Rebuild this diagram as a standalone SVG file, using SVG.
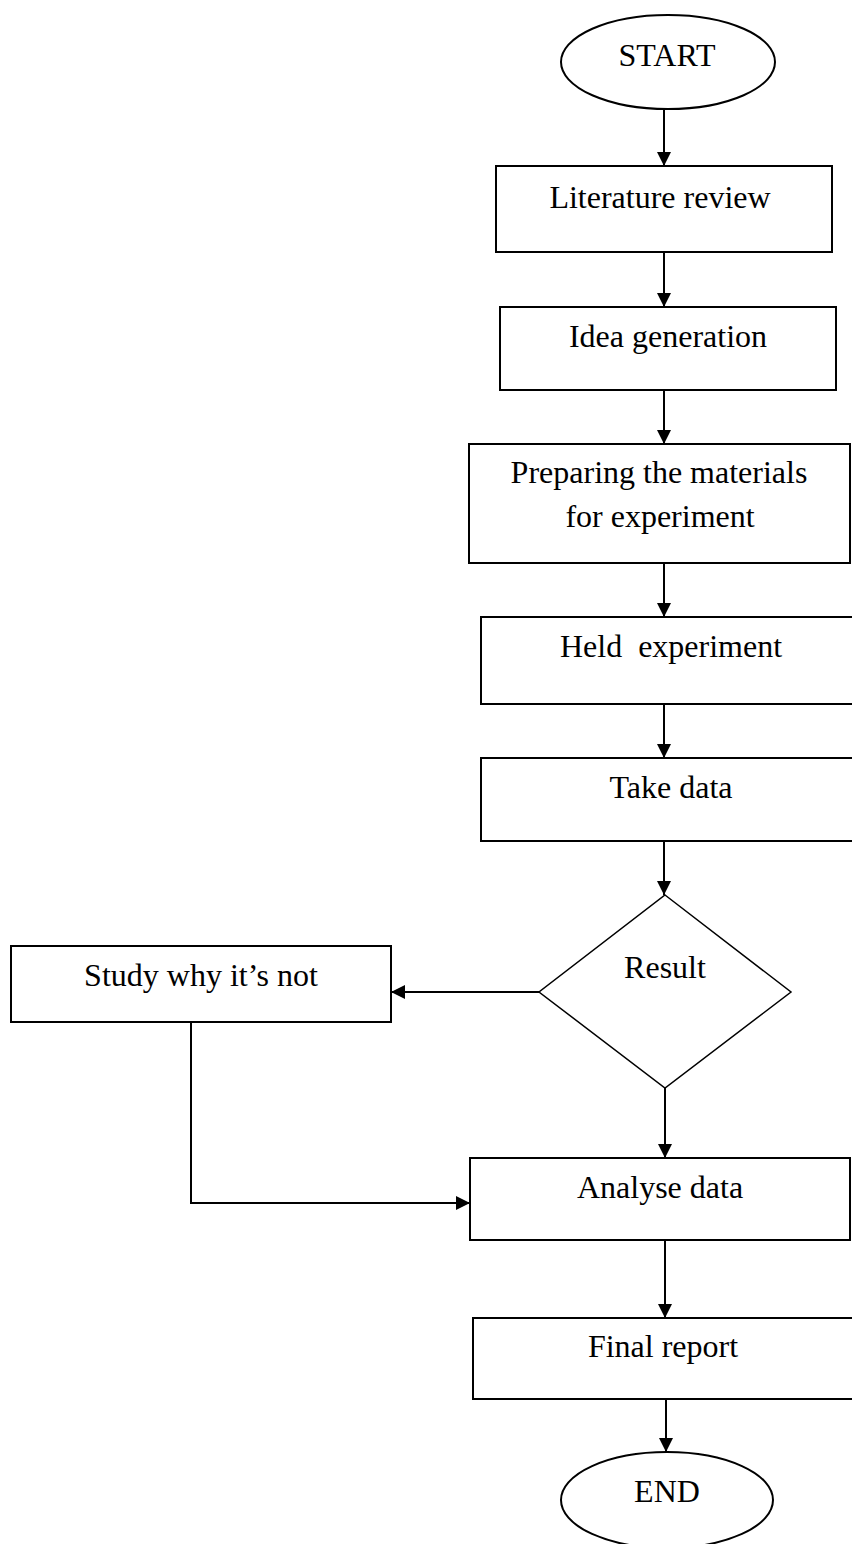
<svg xmlns="http://www.w3.org/2000/svg" width="852" height="1544" viewBox="0 0 852 1544">
<style>
  .box { fill: #ffffff; stroke: #000000; stroke-width: 2; }
  .dia { fill: #ffffff; stroke: #000000; stroke-width: 1.5; }
  .lbl { font-family: "Liberation Serif", "Times New Roman", serif; font-size: 32px; fill: #000000; text-anchor: middle; }
  .con { fill: none; stroke: #000000; stroke-width: 2; }
</style>
<defs>
  <marker id="arr" viewBox="0 0 14 14" refX="14" refY="7" markerWidth="14" markerHeight="14" markerUnits="userSpaceOnUse" orient="auto">
    <path d="M0,0 L14,7 L0,14 Z" fill="#000000"/>
  </marker>
</defs>
<rect width="852" height="1544" fill="#ffffff"/>
<g id="start">
  <ellipse class="box" cx="668" cy="62" rx="107" ry="47"/>
  <text class="lbl" x="667" y="66">START</text>
</g>
<g id="literature">
  <rect class="box" x="496" y="166" width="336" height="86"/>
  <text class="lbl" x="660" y="208">Literature review</text>
</g>
<g id="idea">
  <rect class="box" x="500" y="307" width="336" height="83"/>
  <text class="lbl" x="668" y="347">Idea generation</text>
</g>
<g id="preparing">
  <rect class="box" x="469" y="444" width="381" height="119"/>
  <text class="lbl" x="659" y="483">Preparing the materials</text>
  <text class="lbl" x="660" y="527">for experiment</text>
</g>
<g id="held">
  <rect class="box" x="481" y="617" width="400" height="87"/>
  <text class="lbl" x="671" y="657" xml:space="preserve">Held  experiment</text>
</g>
<g id="take">
  <rect class="box" x="481" y="758" width="400" height="83"/>
  <text class="lbl" x="671" y="798">Take data</text>
</g>
<g id="result">
  <polygon class="dia" points="665,895 791,992 665,1088 539,992"/>
  <text class="lbl" x="665" y="978">Result</text>
</g>
<g id="study">
  <rect class="box" x="11" y="946" width="380" height="76"/>
  <text class="lbl" x="201" y="986">Study why it’s not</text>
</g>
<g id="analyse">
  <rect class="box" x="470" y="1158" width="380" height="82"/>
  <text class="lbl" x="660" y="1198">Analyse data</text>
</g>
<g id="final">
  <rect class="box" x="473" y="1318" width="400" height="81"/>
  <text class="lbl" x="663" y="1357">Final report</text>
</g>
<g id="end">
  <ellipse class="box" cx="667" cy="1500" rx="106" ry="48"/>
  <text class="lbl" x="667" y="1502">END</text>
</g>
<g id="connectors">
  <line class="con" x1="664" y1="109" x2="664" y2="166" marker-end="url(#arr)"/>
  <line class="con" x1="664" y1="252" x2="664" y2="307" marker-end="url(#arr)"/>
  <line class="con" x1="664" y1="390" x2="664" y2="444" marker-end="url(#arr)"/>
  <line class="con" x1="664" y1="563" x2="664" y2="617" marker-end="url(#arr)"/>
  <line class="con" x1="664" y1="704" x2="664" y2="758" marker-end="url(#arr)"/>
  <line class="con" x1="664" y1="841" x2="664" y2="895" marker-end="url(#arr)"/>
  <line class="con" x1="539" y1="992" x2="391" y2="992" marker-end="url(#arr)"/>
  <line class="con" x1="665" y1="1088" x2="665" y2="1158" marker-end="url(#arr)"/>
  <polyline class="con" points="191,1022 191,1203 470,1203" marker-end="url(#arr)"/>
  <line class="con" x1="665" y1="1240" x2="665" y2="1318" marker-end="url(#arr)"/>
  <line class="con" x1="666" y1="1399" x2="666" y2="1452" marker-end="url(#arr)"/>
</g>
</svg>
